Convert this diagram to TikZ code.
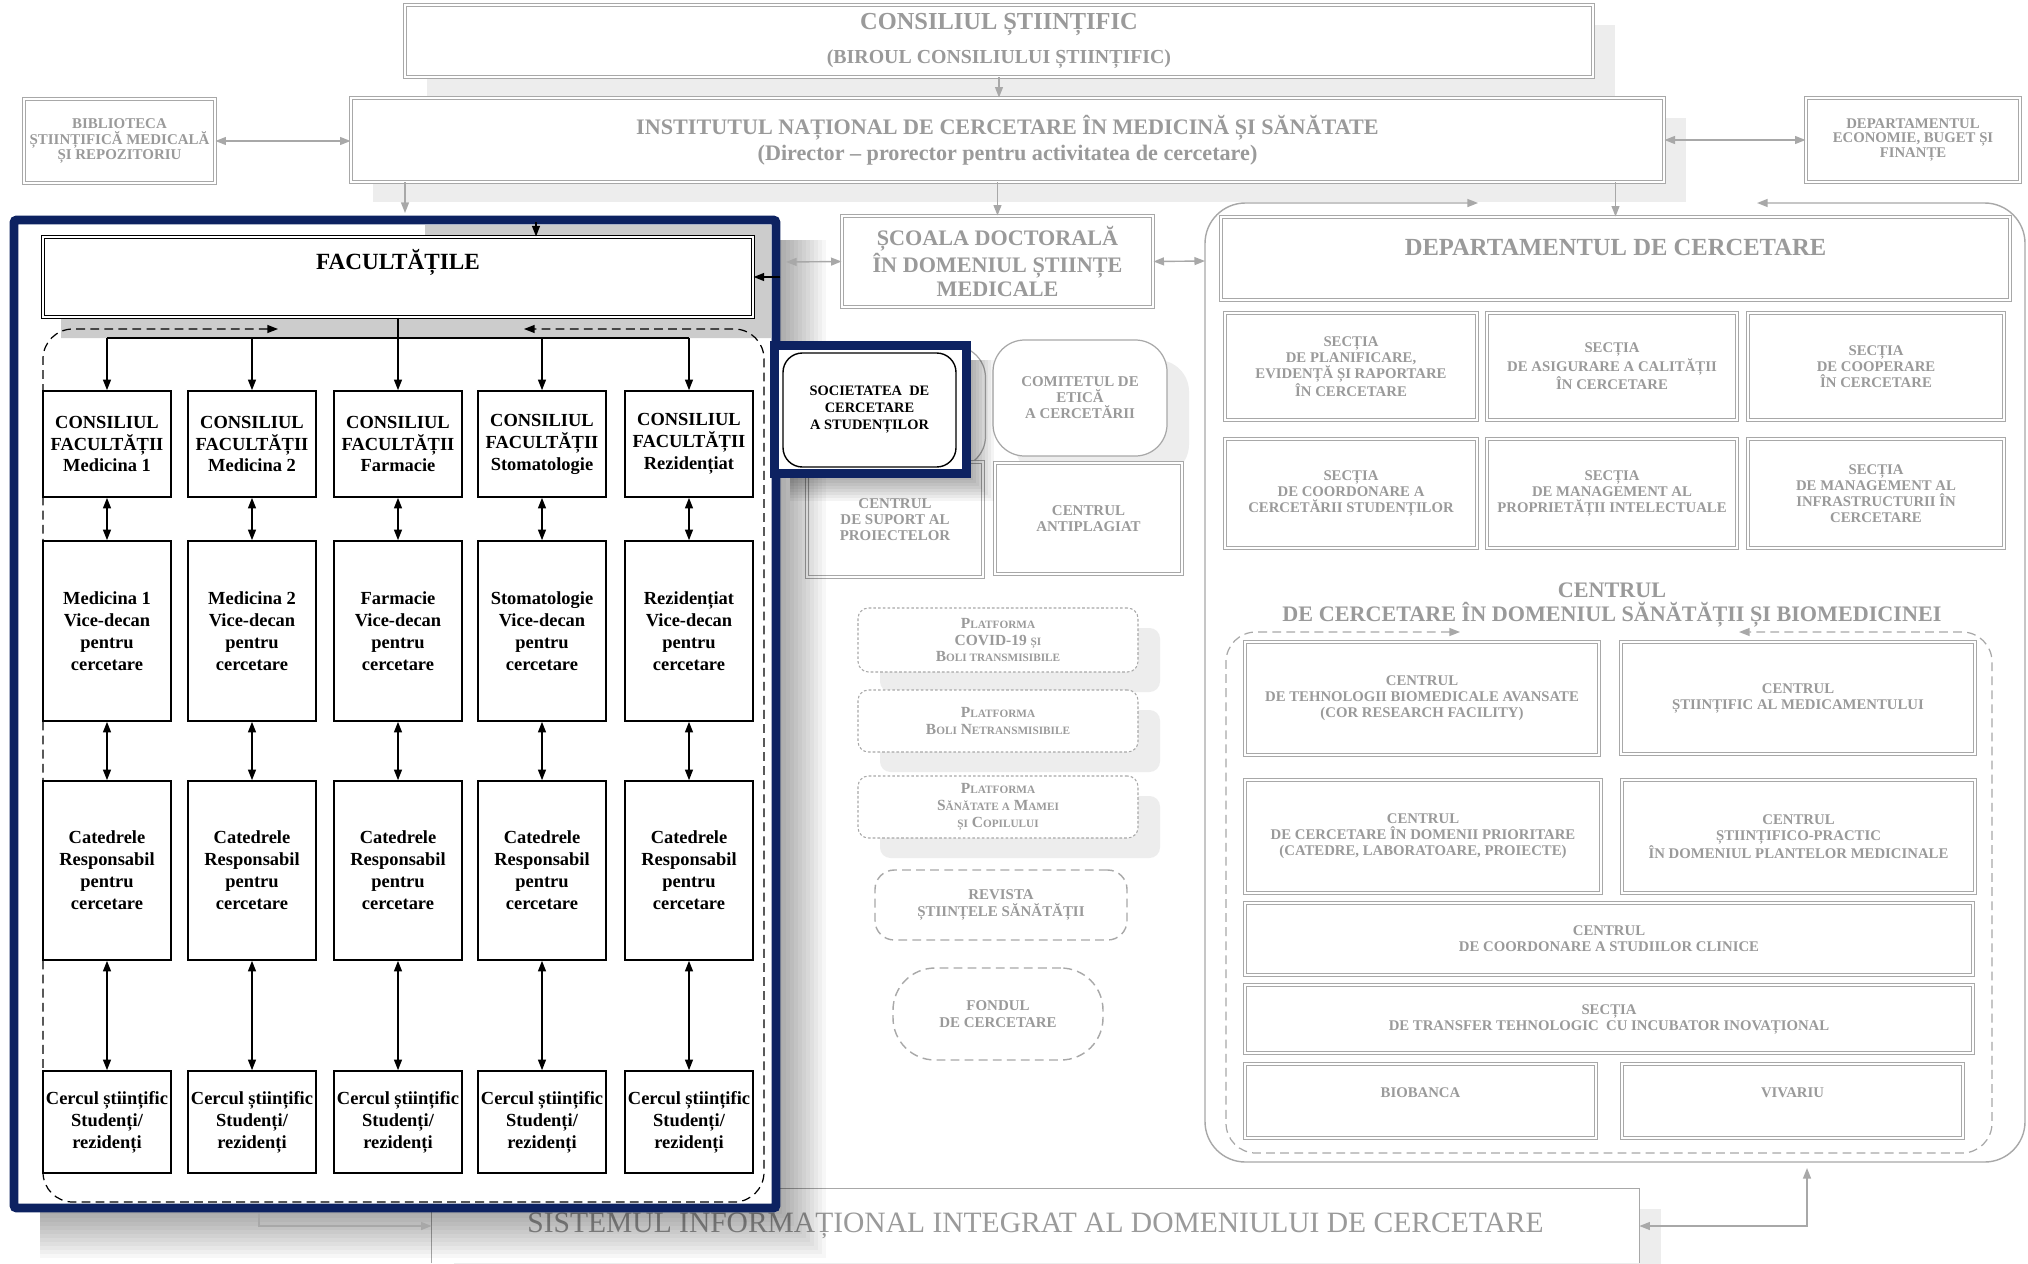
\documentclass[tikz,border=0pt]{standalone}
\usepackage{fontspec}
\setmainfont{Liberation Serif}
\usetikzlibrary{arrows.meta,shadows}

\definecolor{lgray}{HTML}{A8A8A8}
\definecolor{tgray}{HTML}{9A9A9A}
\definecolor{navy}{HTML}{0D2261}

\newcommand{\sml}[1]{{\fontsize{6.4}{9.5}\selectfont #1}}

\tikzset{
  sz/.style 2 args={minimum width=#1*0.2mm, minimum height=#2*0.2mm},
  gbox/.style={draw=lgray, line width=0.5pt, double=white, double distance=1.6pt, fill=white, text=tgray, align=center, inner sep=0pt},
  gsng/.style={draw=lgray, line width=0.7pt, fill=white, text=tgray, align=center, inner sep=0pt},
  bbox/.style={draw=black, line width=0.9pt, fill=white, align=center, inner sep=0pt, font=\bfseries\fontsize{10.5}{12.5}\selectfont},
  plat/.style={draw=lgray, line width=0.6pt, dash pattern=on 1.5pt off 1.2pt, rounded corners=6pt, fill=white, text=tgray, align=center, inner sep=0pt, shd, font=\bfseries\fontsize{8.8}{9.5}\selectfont},
  gdash/.style={draw=lgray, line width=0.8pt, dash pattern=on 5pt off 3pt, fill=white, text=tgray, align=center, inner sep=0pt, font=\bfseries\fontsize{8.5}{9.5}\selectfont},
  gline/.style={draw=lgray, line width=0.8pt},
  bline/.style={draw=black, line width=0.8pt},
  shd/.style={drop shadow={shadow xshift=4.4mm, shadow yshift=-4mm, fill=black!7, opacity=1}},
  fsec/.style={font=\bfseries\fontsize{8.4}{9.1}\selectfont},
  fmid/.style={font=\bfseries\fontsize{8.5}{9.1}\selectfont},
}

\begin{document}
\begin{tikzpicture}[x=0.2mm, y=-0.2mm, >={Triangle[length=6pt,width=4.5pt]}]
\clip (0,0) rectangle (2028,1263);
\fill[white] (0,0) rectangle (2028,1263);

\node[gbox, shd, sz={1188}{72}, font=\bfseries\fontsize{13.9}{19}\selectfont] (cs) at (999,41) {CONSILIUL ȘTIINȚIFIC\\{\fontsize{11.3}{19}\selectfont (BIROUL CONSILIULUI ȘTIINȚIFIC)}};
\node[gbox, shd, sz={1313}{84}, font=\bfseries\fontsize{12.6}{14.8}\selectfont] (inst) at (1007.5,140) {INSTITUTUL NAȚIONAL DE CERCETARE ÎN MEDICINĂ ȘI SĂNĂTATE\\(Director – prorector pentru activitatea de cercetare)};
\node[gbox, sz={191}{84}, font=\bfseries\fontsize{8.5}{8.8}\selectfont] (bibl) at (119.5,141) {BIBLIOTECA\\ȘTIINȚIFICĂ MEDICALĂ\\ȘI REPOZITORIU};
\node[gbox, sz={214}{84}, font=\bfseries\fontsize{8.4}{8.4}\selectfont] (depec) at (1913,140) {DEPARTAMENTUL\\ECONOMIE, BUGET ȘI\\FINANȚE};
\draw[gline,->] (cs.south) -- (cs.south |- inst.north);
\draw[gline,<->] (bibl.east) -- (bibl.east -| inst.west);
\draw[gline,<->] (inst.east) -- (depec.west);

\node[gbox, sz={311}{91}, font=\bfseries\fontsize{12.6}{13.7}\selectfont] (scoala) at (997.5,261.5) {ȘCOALA DOCTORALĂ\\ÎN DOMENIUL ȘTIINȚE\\MEDICALE};
\draw[gline,->] (inst.south -| scoala.north) -- (scoala.north);

\draw[gline, rounded corners=23pt, <->] (1478,203) -- (1205,203) -- (1205,1162) -- (2025,1162) -- (2025,203) -- (1757,203);
\coordinate (dcl) at (1205,261);
\coordinate (dcb) at (1807,1168);
\draw[gline,<->] (scoala.east) -- (dcl);
\node[gbox, sz={789}{83}, font=\bfseries\fontsize{14}{16}\selectfont, text height=10pt, text depth=13.7pt] (depcerc) at (1615.5,258.5) {DEPARTAMENTUL DE CERCETARE};
\draw[gline,->] (inst.south -| depcerc.north) -- (depcerc.north);

\node[gbox, fsec, sz={252}{107}] (sec1) at (1351,366.5) {SECȚIA\\DE PLANIFICARE,\\EVIDENȚĂ ȘI RAPORTARE\\ÎN CERCETARE};
\node[gbox, fsec, sz={250}{107}] (sec2) at (1612,366.5) {SECȚIA\\DE ASIGURARE A CALITĂȚII\\ÎN CERCETARE};
\node[gbox, fsec, sz={256}{107}] (sec3) at (1876,366.5) {SECȚIA\\DE COOPERARE\\ÎN CERCETARE};
\node[gbox, fsec, sz={252}{109}] (sec4) at (1351,493.5) {SECȚIA\\DE COORDONARE A\\CERCETĂRII STUDENȚILOR};
\node[gbox, fsec, sz={250}{109}] (sec5) at (1612,493.5) {SECȚIA\\DE MANAGEMENT AL\\PROPRIETĂȚII INTELECTUALE};
\node[gbox, fsec, sz={256}{109}] (sec6) at (1876,493.5) {SECȚIA\\DE MANAGEMENT AL\\INFRASTRUCTURII ÎN\\CERCETARE};

\node[text=tgray, align=center, inner sep=0pt, font=\bfseries\fontsize{12.6}{13.7}\selectfont] (cdtitle) at (1612,605) {CENTRUL\\DE CERCETARE ÎN DOMENIUL SĂNĂTĂȚII ȘI BIOMEDICINEI};
\draw[gline, line width=0.7pt, dash pattern=on 5pt off 3pt, rounded corners=17pt, <->] (1460,632) -- (1226,632) -- (1226,1153) -- (1992,1153) -- (1992,632) -- (1739,632);
\node[gbox, fsec, sz={354}{113}] (ctehn) at (1422,698.5) {CENTRUL\\DE TEHNOLOGII BIOMEDICALE AVANSATE\\(COR RESEARCH FACILITY)};
\node[gbox, fsec, sz={354}{112}] (cmedic) at (1798,698) {CENTRUL\\ȘTIINȚIFIC AL MEDICAMENTULUI};
\node[gbox, fsec, sz={356}{113}] (cprior) at (1423,836.5) {CENTRUL\\DE CERCETARE ÎN DOMENII PRIORITARE\\(CATEDRE, LABORATOARE, PROIECTE)};
\node[gbox, fsec, sz={353}{113}] (cplant) at (1798.5,836.5) {CENTRUL\\ȘTIINȚIFICO-PRACTIC\\ÎN DOMENIUL PLANTELOR MEDICINALE};
\node[gbox, fsec, sz={728}{72}] (cstud) at (1609,939) {CENTRUL\\DE COORDONARE A STUDIILOR CLINICE};
\node[gbox, fsec, sz={728}{68}] (ctrans) at (1609,1019) {SECȚIA\\DE TRANSFER TEHNOLOGIC\ \ CU INCUBATOR INOVAȚIONAL};
\node[gbox, fsec, sz={351}{74}, text height=6pt, text depth=10.4pt] (bioban) at (1420.5,1101) {BIOBANCA};
\node[gbox, fsec, sz={341}{74}, text height=6pt, text depth=10.4pt] (vivar) at (1792.5,1101) {VIVARIU};

\node[gsng, rounded corners=18pt, sz={185}{122}] (socold) at (893,407) {};
\node[gsng, shd, rounded corners=18pt, sz={174}{116}, fmid] (etica) at (1080,398) {COMITETUL DE\\ETICĂ\\A CERCETĂRII};
\node[gbox, fmid, sz={176}{115}] (suport) at (895,519.5) {CENTRUL\\DE SUPORT AL\\PROIECTELOR};
\node[gbox, fmid, sz={187}{111}] (antip) at (1088.5,518.5) {CENTRUL\\ANTIPLAGIAT};
\node[plat, sz={280}{64}] (plat1) at (998,640) {P\sml{LATFORMA}\\COVID-19 \sml{ȘI}\\B\sml{OLI TRANSMISIBILE}};
\node[plat, sz={280}{62}] (plat2) at (998,721) {P\sml{LATFORMA}\\B\sml{OLI} N\sml{ETRANSMISIBILE}};
\node[plat, sz={280}{62}] (plat3) at (998,807) {P\sml{LATFORMA}\\S\sml{ĂNĂTATE A} M\sml{AMEI}\\\sml{ȘI} C\sml{OPILULUI}};
\node[gdash, rounded corners=11pt, sz={252}{70}] (revista) at (1001,905) {REVISTA\\ȘTIINȚELE SĂNĂTĂȚII};
\node[gdash, rounded corners=24pt, sz={210}{92}] (fond) at (998,1014) {FONDUL\\DE CERCETARE};

\node[shd, fill=white, text=tgray, inner sep=0pt, sz={1207}{74}, font=\fontsize{16.8}{18}\selectfont] (sist) at (1035.5,1226) {SISTEMUL INFORMAȚIONAL INTEGRAT AL DOMENIULUI DE CERCETARE};
\draw[gline] (sist.south west) -- (sist.north west) -- (sist.north east) -- (sist.south east);
\draw[gline,<->] (sist.east) -| (dcb);

\foreach \k in {0,...,11} \fill[black,opacity=0.03] (40,240) rectangle (782+4*\k,1214+4*\k);
\coordinate (ffin) at (405,213);
\coordinate (fbot) at (259,1212);
\coordinate (fr) at (786,262);
\draw[gline,->] (inst.south -| ffin) -- (ffin);
\draw[gline,->] (fbot) |- (sist.west);
\draw[gline,<->] (fr) -- (scoala.west);
\node[draw=navy, line width=5pt, fill=white, rounded corners=1.5pt, sz={762}{988}] (facframe) at (395,714) {};
\fill[black!20] (425,225) -- (771,225) -- (771,338) -- (61,338) -- (61,300) -- (425,300) -- cycle;
\node[draw=black, line width=0.6pt, double=white, double distance=1.5pt, fill=white, inner sep=0pt, sz={710}{80}, font=\bfseries\fontsize{13.2}{15}\selectfont, text height=10pt, text depth=18.3pt] (fac) at (398,277) {FACULTĂȚILE};
\coordinate (ftop) at (536,222);
\draw[bline,->] (ftop) -- (ftop |- fac.north);
\draw[bline,->] (facframe.east |- fac.east) -- (fac.east);
\draw[bline, line width=0.7pt, dash pattern=on 5pt off 3pt, rounded corners=17pt, <->] (278,329) -- (43,329) -- (43,1202) -- (764,1202) -- (764,329) -- (524,329);

\node[bbox, sz={128}{106}] (cons1) at (107,444) {CONSILIUL\\FACULTĂȚII\\Medicina 1};
\node[bbox, sz={128}{106}] (cons2) at (252,444) {CONSILIUL\\FACULTĂȚII\\Medicina 2};
\node[bbox, sz={128}{106}] (cons3) at (398,444) {CONSILIUL\\FACULTĂȚII\\Farmacie};
\node[bbox, sz={128}{106}] (cons4) at (542,444) {CONSILIUL\\FACULTĂȚII\\Stomatologie};
\node[bbox, sz={128}{106}] (cons5) at (689,444) {CONSILIUL\\FACULTĂȚII\\Rezidențiat};
\node[bbox, sz={128}{180}] (vice1) at (107,631) {Medicina 1\\Vice-decan\\pentru\\cercetare};
\node[bbox, sz={128}{180}] (vice2) at (252,631) {Medicina 2\\Vice-decan\\pentru\\cercetare};
\node[bbox, sz={128}{180}] (vice3) at (398,631) {Farmacie\\Vice-decan\\pentru\\cercetare};
\node[bbox, sz={128}{180}] (vice4) at (542,631) {Stomatologie\\Vice-decan\\pentru\\cercetare};
\node[bbox, sz={128}{180}] (vice5) at (689,631) {Rezidențiat\\Vice-decan\\pentru\\cercetare};
\node[bbox, sz={128}{179}] (cat1) at (107,870.5) {Catedrele\\Responsabil\\pentru\\cercetare};
\node[bbox, sz={128}{179}] (cat2) at (252,870.5) {Catedrele\\Responsabil\\pentru\\cercetare};
\node[bbox, sz={128}{179}] (cat3) at (398,870.5) {Catedrele\\Responsabil\\pentru\\cercetare};
\node[bbox, sz={128}{179}] (cat4) at (542,870.5) {Catedrele\\Responsabil\\pentru\\cercetare};
\node[bbox, sz={128}{179}] (cat5) at (689,870.5) {Catedrele\\Responsabil\\pentru\\cercetare};
\node[bbox, sz={128}{102}] (cerc1) at (107,1122) {Cercul științific\\Studenți/\\rezidenți};
\node[bbox, sz={128}{102}] (cerc2) at (252,1122) {Cercul științific\\Studenți/\\rezidenți};
\node[bbox, sz={128}{102}] (cerc3) at (398,1122) {Cercul științific\\Studenți/\\rezidenți};
\node[bbox, sz={128}{102}] (cerc4) at (542,1122) {Cercul științific\\Studenți/\\rezidenți};
\node[bbox, sz={128}{102}] (cerc5) at (689,1122) {Cercul științific\\Studenți/\\rezidenți};

\coordinate (bus) at (398,338);
\draw[bline] (fac.south) -- (bus);
\draw[bline] (cons1.north |- bus) -- (cons5.north |- bus);
\draw[bline,->] (cons1.north |- bus) -- (cons1.north);
\draw[bline,->] (cons2.north |- bus) -- (cons2.north);
\draw[bline,->] (cons3.north |- bus) -- (cons3.north);
\draw[bline,->] (cons4.north |- bus) -- (cons4.north);
\draw[bline,->] (cons5.north |- bus) -- (cons5.north);
\draw[bline,<->] (cons1) -- (vice1); \draw[bline,<->] (vice1) -- (cat1); \draw[bline,<->] (cat1) -- (cerc1);
\draw[bline,<->] (cons2) -- (vice2); \draw[bline,<->] (vice2) -- (cat2); \draw[bline,<->] (cat2) -- (cerc2);
\draw[bline,<->] (cons3) -- (vice3); \draw[bline,<->] (vice3) -- (cat3); \draw[bline,<->] (cat3) -- (cerc3);
\draw[bline,<->] (cons4) -- (vice4); \draw[bline,<->] (vice4) -- (cat4); \draw[bline,<->] (cat4) -- (cerc4);
\draw[bline,<->] (cons5) -- (vice5); \draw[bline,<->] (vice5) -- (cat5); \draw[bline,<->] (cat5) -- (cerc5);

\foreach \k in {0,...,7} \fill[black,opacity=0.045] (790,360) rectangle (973+3*\k,480+3*\k);
\node[draw=navy, line width=5pt, fill=white, sz={192}{128}] (socframe) at (870.5,409.5) {};
\node[draw=black, line width=0.8pt, rounded corners=11pt, fill=white, align=center, inner sep=0pt, sz={173}{114}, font=\bfseries\fontsize{8.2}{9.7}\selectfont] (soc) at (869.5,410) {SOCIETATEA\ \ DE\\CERCETARE\\A STUDENȚILOR};
\end{tikzpicture}
\end{document}
